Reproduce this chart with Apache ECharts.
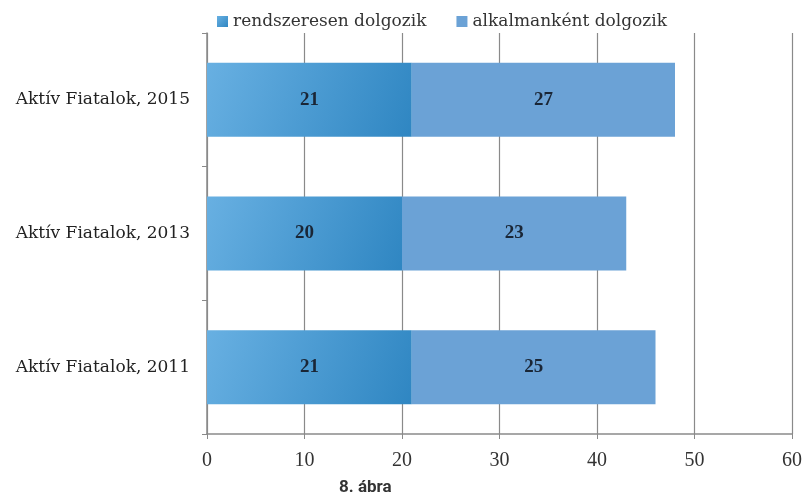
<!DOCTYPE html>
<html><head><meta charset="utf-8">
<script src="https://cdn.jsdelivr.net/npm/echarts@6/dist/echarts.min.js"></script>
<style>html,body{margin:0;padding:0;background:#fff}#c{width:805px;height:499px}</style>
</head><body><div id="c"></div>
<script>
const categories = ['Aktív Fiatalok, 2011', 'Aktív Fiatalok, 2013', 'Aktív Fiatalok, 2015'];
const seriesNames = ['rendszeresen dolgozik', 'alkalmanként dolgozik'];
const regular = [21, 20, 21];
const occasional = [25, 23, 27];
const xTicks = { min: 0, max: 60, interval: 10 };
const figTitle = '8. ábra';

const serif = 'Liberation Serif';
const wide = 'DejaVu Serif';
const chart = echarts.init(document.getElementById('c'));
chart.setOption({
  animation: false,
  title: {
    text: figTitle, left: 334, top: 474,
    textStyle: { fontFamily: 'Roboto', fontWeight: 'bold', fontSize: 17, color: '#333' }
  },
  legend: {
    data: seriesNames, left: 212, top: 8, itemWidth: 11, itemHeight: 11, itemGap: 30,
    icon: 'rect',
    textStyle: { fontFamily: wide, fontSize: 17, color: '#333', padding: [0, 0, 0, 0] }
  },
  grid: { left: 207, right: 10, top: 33, bottom: 65, containLabel: false },
  xAxis: {
    type: 'value', min: xTicks.min, max: xTicks.max, interval: xTicks.interval,
    axisLine: { show: true, lineStyle: { color: '#8a8a8a', width: 1.5 } },
    axisTick: { show: true, length: 5, lineStyle: { color: '#8a8a8a' } },
    axisLabel: { fontFamily: serif, fontSize: 20, color: '#333', margin: 17 },
    splitLine: { show: true, lineStyle: { color: '#8a8a8a', width: 1.2 } }
  },
  yAxis: {
    type: 'category', data: categories,
    axisLine: { show: true, lineStyle: { color: '#8a8a8a', width: 1.5 } },
    axisTick: { show: true, length: 5, lineStyle: { color: '#8a8a8a' } },
    axisLabel: { fontFamily: wide, fontSize: 17, color: '#222', margin: 17 }
  },
  series: [
    {
      name: seriesNames[0], type: 'bar', stack: 's', data: regular, barWidth: 74,
      itemStyle: {
        color: new echarts.graphic.LinearGradient(0, 0, 1, 1, [
          { offset: 0, color: '#68b0e2' }, { offset: 1, color: '#2f86c2' }
        ])
      },
      label: { show: true, position: 'inside', fontFamily: serif, fontWeight: 'bold', fontSize: 19, color: '#1a2636' }
    },
    {
      name: seriesNames[1], type: 'bar', stack: 's', data: occasional, barWidth: 74,
      itemStyle: { color: '#6ba2d6' },
      label: { show: true, position: 'inside', fontFamily: serif, fontWeight: 'bold', fontSize: 19, color: '#1a2636' }
    }
  ]
});
</script></body></html>
